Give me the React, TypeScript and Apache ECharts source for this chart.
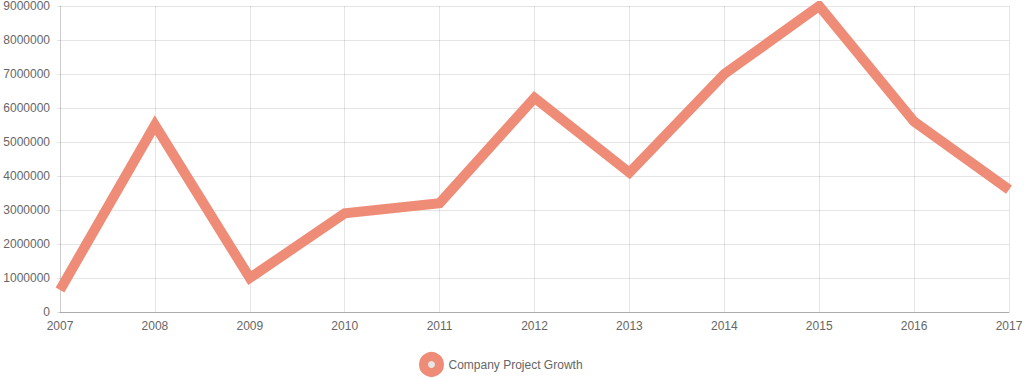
import React, { useEffect, useRef } from "react";
import * as echarts from "echarts";

const years = ["2007", "2008", "2009", "2010", "2011", "2012", "2013", "2014", "2015", "2016", "2017"];
const growth = [650000, 5500000, 1000000, 2900000, 3200000, 6300000, 4100000, 7000000, 9000000, 5600000, 3600000];
const seriesName = "Company Project Growth";

const LINE = "#EE8C77";
const TEXT = "#666666";
const FONT = "'Liberation Sans', Arial, Helvetica, sans-serif";

export default function App() {
  const ref = useRef<HTMLDivElement>(null);
  useEffect(() => {
    if (!ref.current) return;
    const chart = echarts.init(ref.current, undefined, { renderer: "svg" });
    chart.setOption({
      animation: false,
      backgroundColor: "#ffffff",
      grid: { left: 60, right: 15, top: 6, bottom: 67, containLabel: false, outerBoundsMode: "none" },
      legend: {
        data: [{ name: seriesName, icon: "circle" }],
        left: 419,
        top: 352,
        padding: 0,
        itemWidth: 16,
        itemHeight: 16,
        itemStyle: { color: "#e6e6e6", borderColor: LINE, borderWidth: 9 },
        textStyle: { color: TEXT, fontSize: 12, fontFamily: FONT, padding: [0, 0, 0, 4] },
      },
      xAxis: {
        type: "category",
        data: years,
        boundaryGap: false,
        axisLine: { show: true, lineStyle: { color: "rgba(0,0,0,0.25)", width: 1 } },
        axisTick: { show: false },
        axisLabel: { color: TEXT, fontSize: 12, fontFamily: FONT, margin: 8 },
        splitLine: { show: true, lineStyle: { color: "rgba(0,0,0,0.1)", width: 1 } },
      },
      yAxis: {
        type: "value",
        min: 0,
        max: 9000000,
        interval: 1000000,
        axisLine: { show: true, lineStyle: { color: "rgba(0,0,0,0.1)", width: 1 } },
        axisTick: { show: true, length: 3, lineStyle: { color: "rgba(0,0,0,0.1)" } },
        axisLabel: {
          color: TEXT,
          fontSize: 12,
          fontFamily: FONT,
          margin: 10,
          formatter: (v: number) => String(v),
        },
        splitLine: { show: true, lineStyle: { color: "rgba(0,0,0,0.1)", width: 1 } },
      },
      series: [
        {
          name: seriesName,
          type: "line",
          data: growth,
          showSymbol: false,
          symbol: "none",
          smooth: false,
          clip: true,
          lineStyle: { color: LINE, width: 10, join: "miter", cap: "butt" },
          itemStyle: { color: "#e6e6e6", borderColor: LINE },
        },
      ],
    });
    return () => chart.dispose();
  }, []);
  return (
    <div
      ref={ref}
      style={{ position: "fixed", left: 0, top: 0, width: 1024, height: 379, background: "#fff" }}
    />
  );
}
